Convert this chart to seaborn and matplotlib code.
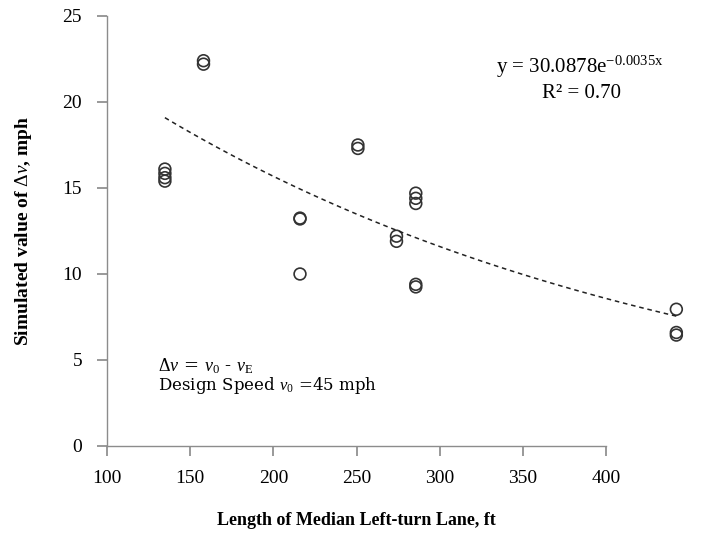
import numpy as np
import pandas as pd
import matplotlib
matplotlib.use("Agg")
import matplotlib.pyplot as plt
import seaborn as sns

# lane length (ft) and simulated speed difference (mph)
lane_length = [130, 130, 130, 130,
               150, 150,
               200, 200, 200,
               230, 230,
               250, 250,
               260, 260, 260, 260, 260,
               395, 395, 395]
delta_v = [16.1, 15.85, 15.6, 15.4,
           22.4, 22.2,
           13.25, 13.2, 10.0,
           17.5, 17.3,
           12.2, 11.9,
           14.7, 14.4, 14.1, 9.4, 9.25,
           7.95, 6.6, 6.45]

# exponential trend shown on the chart
fit_a = 30.0878
fit_b = -0.0035
x_ticks = [100, 150, 200, 250, 300, 350, 400]
y_ticks = [0, 5, 10, 15, 20, 25]

sns.set_theme(style="white")
plt.rcParams["font.family"] = ["Liberation Serif", "DejaVu Serif"]
plt.rcParams["mathtext.fontset"] = "custom"
plt.rcParams["mathtext.rm"] = "Liberation Serif"
plt.rcParams["mathtext.it"] = "Liberation Serif:italic"
plt.rcParams["mathtext.bf"] = "Liberation Serif:bold"
for key in ["text.color", "axes.labelcolor", "xtick.labelcolor", "ytick.labelcolor"]:
    plt.rcParams[key] = "black"

df = pd.DataFrame({"length": lane_length, "dv": delta_v})
x_fit = np.linspace(min(lane_length), max(lane_length), 100)
trend = pd.DataFrame({"length": x_fit, "dv": fit_a * np.exp(fit_b * x_fit)})

W, H = 706, 544
fig = plt.figure(figsize=(W / 100, H / 100), dpi=100)
axis_color = "#8c8c8c"

# data area (the points run past the drawn x axis, as in the original)
ax = fig.add_axes([107 / W, (H - 446) / H, (686 - 107) / W, 430 / H])
ax.set_facecolor("none")
sns.scatterplot(data=df, x="length", y="dv", ax=ax, marker="o", s=72,
                facecolor="none", edgecolor="#333333", linewidth=1.2)
sns.lineplot(data=trend, x="length", y="dv", ax=ax, color="#222222",
             linewidth=1.1, linestyle=(0, (3, 2.5)))
ax.set_xlim(100, 400)
ax.set_ylim(0, 25)
ax.set_yticks(y_ticks)
ax.tick_params(axis="y", direction="out", length=7, color=axis_color,
               labelsize=14, pad=11, left=True)
ax.set_xticks([])
ax.set_xlabel("")
ax.set_ylabel("Simulated value of $\\Delta\\mathit{v}$, mph", fontsize=14,
              fontweight="bold")
ax.yaxis.set_label_coords((23 - 107) / 579, 0.5)
ax.yaxis.label.set_va("center")
for s in ["top", "right", "bottom"]:
    ax.spines[s].set_visible(False)
ax.spines["left"].set_color(axis_color)
ax.spines["left"].set_linewidth(1)

# drawn x axis
ax2 = fig.add_axes([107 / W, (H - 446) / H, (606 - 107) / W, 0.0001])
ax2.set_facecolor("none")
ax2.set_xlim(100, 400)
ax2.set_xticks(x_ticks)
ax2.set_yticks([])
ax2.tick_params(axis="x", direction="out", length=7, color=axis_color,
                labelsize=14, pad=10, bottom=True)
for s in ["top", "right", "left"]:
    ax2.spines[s].set_visible(False)
ax2.spines["bottom"].set_color(axis_color)
ax2.spines["bottom"].set_linewidth(1)
ax2.set_xlabel("Length of Median Left-turn Lane, ft", fontsize=13,
               fontweight="bold", labelpad=18)

fig.text(580 / W, 1 - 67 / H, "y = 30.0878e$^{\\mathrm{-0.0035x}}$",
         fontsize=15, ha="center", va="center")
fig.text(582 / W, 1 - 94 / H, "R² = 0.70", fontsize=15,
         ha="center", va="center")
fig.text(158 / W, 1 - 366 / H,
         "$\\Delta\\mathit{v}$ = $\\mathit{v}_0$ - $\\mathit{v}_\\mathrm{E}$",
         fontsize=13, ha="left", va="center", family="DejaVu Serif")
fig.text(158 / W, 1 - 385 / H,
         "Design Speed $\\mathit{v}_0$ =45 mph",
         fontsize=12, ha="left", va="center", family="DejaVu Serif")

fig.savefig("out.png", dpi=100)
